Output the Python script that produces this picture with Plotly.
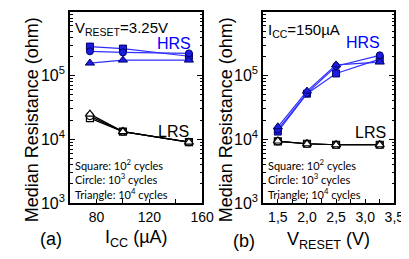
import plotly.graph_objects as go

# ---------------- data ----------------
icc = [75, 100, 150]
hrs_a_square = [2.85e5, 2.65e5, 2.01e5]
hrs_a_circle = [2.40e5, 2.31e5, 2.23e5]
hrs_a_triangle = [1.57e5, 1.75e5, 1.75e5]
lrs_a_square = [2.15e4, 1.32e4, 9.0e3]
lrs_a_circle = [2.31e4, 1.32e4, 9.0e3]
lrs_a_triangle = [2.48e4, 1.32e4, 9.0e3]

vreset = [1.5, 2.0, 2.5, 3.25]
hrs_b_square = [1.32e4, 5.2e4, 1.08e5, 1.81e5]
hrs_b_circle = [1.42e4, 5.3e4, 1.40e5, 2.08e5]
hrs_b_triangle = [1.57e4, 5.7e4, 1.47e5, 1.63e5]
lrs_b_square = [9.3e3, 8.5e3, 8.2e3, 8.2e3]
lrs_b_circle = [9.3e3, 8.5e3, 8.2e3, 8.2e3]
lrs_b_triangle = [9.4e3, 8.5e3, 8.2e3, 8.2e3]

y_tickvals = [1e3, 1e4, 1e5, 1e6]
y_ticktext = ["10<sup>3</sup>", "10<sup>4</sup>", "10<sup>5</sup>", "10<sup>6</sup>"]
xa_tickvals = [60, 80, 100, 120, 140, 160]
xa_ticktext = ["", "80", "", "120", "", "160"]
xb_tickvals = [1.25, 1.5, 1.75, 2.0, 2.25, 2.5, 2.75, 3.0, 3.25, 3.5]
xb_ticktext = ["", "1,5", "", "2,0", "", "2,5", "", "3,0", "", "3,5"]

W, H = 409, 259
FONT = "Liberation Sans, Arial, sans-serif"
BLUE_LINE = "#2f2fff"
BLUE_MARK = "#1c1ce0"

fig = go.Figure()

symbols = ["square", "circle", "triangle-up"]
sizes = [7, 7, 8]


def add_series(x, ys, xa, ya, hrs):
    for y, sym, sz in zip(ys, symbols, sizes):
        if hrs:
            fig.add_trace(go.Scatter(
                x=x, y=y, xaxis=xa, yaxis=ya, mode="lines+markers",
                line=dict(color=BLUE_LINE, width=1.2),
                marker=dict(symbol=sym, size=sz, color=BLUE_MARK,
                            line=dict(color="#00006a", width=1)),
                showlegend=False))
        else:
            fig.add_trace(go.Scatter(
                x=x, y=y, xaxis=xa, yaxis=ya, mode="lines+markers",
                line=dict(color="black", width=1.2),
                marker=dict(symbol=sym, size=sz, color="white",
                            line=dict(color="black", width=1.2)),
                showlegend=False))


add_series(icc, [hrs_a_square, hrs_a_circle, hrs_a_triangle], "x", "y", True)
add_series(icc, [lrs_a_square, lrs_a_circle, lrs_a_triangle], "x", "y", False)
add_series(vreset, [hrs_b_square, hrs_b_circle, hrs_b_triangle], "x2", "y2", True)
add_series(vreset, [lrs_b_square, lrs_b_circle, lrs_b_triangle], "x2", "y2", False)

minor_y = []
for d in [1e3, 1e4, 1e5]:
    for k in range(2, 10):
        minor_y.append(d * k)


def px(v):
    return v / W


def py(v):
    return 1 - v / H


yax = dict(type="log", range=[3, 6], tickvals=y_tickvals, ticktext=y_ticktext,
           ticks="inside", ticklen=5, tickwidth=1.2, tickcolor="black",
           minor=dict(tickvals=minor_y, ticks="inside", ticklen=2.5,
                      tickwidth=1, tickcolor="black", showgrid=False),
           showline=True, linecolor="black", linewidth=2, mirror="ticks",
           showgrid=False, zeroline=False,
           tickfont=dict(family=FONT, size=16, color="black"))

xcommon = dict(ticks="inside", ticklen=4, tickwidth=1.2, tickcolor="black",
               showline=True, linecolor="black", linewidth=2, mirror=True,
               showgrid=False, zeroline=False,
               tickfont=dict(family=FONT, size=14, color="black"))

fig.update_layout(
    width=W, height=H,
    margin=dict(l=0, r=0, t=0, b=0),
    paper_bgcolor="white", plot_bgcolor="white",
    xaxis=dict(domain=[px(64), px(200)], range=[60, 160], anchor="y",
               tickmode="array", tickvals=xa_tickvals, ticktext=xa_ticktext,
               **xcommon),
    yaxis=dict(domain=[py(202), py(4)], anchor="x", **yax),
    xaxis2=dict(domain=[px(263), px(398)], range=[1.25, 3.5], anchor="y2",
                tickmode="array", tickvals=xb_tickvals, ticktext=xb_ticktext,
                **xcommon),
    yaxis2=dict(domain=[py(202), py(4)], anchor="x2", **yax),
)

ann = []


def text(x, y, s, size, color="black", xanchor="center", family=FONT, angle=0):
    ann.append(dict(x=px(x), y=py(y), xref="paper", yref="paper", text=s,
                    showarrow=False, xanchor=xanchor, yanchor="middle",
                    textangle=angle,
                    font=dict(family=family, size=size, color=color)))


# y titles
text(25, 116, "Median Resistance (ohm)", 18, angle=-90)
text(225, 116, "Median Resistance (ohm)", 18, angle=-90)
# x titles and panel labels
text(44, 239, "(a)", 18)
text(132, 239, "I<sub>CC</sub> (µA)", 18)
text(243, 241, "(b)", 18)
text(330, 241, "V<sub>RESET</sub> (V)", 18)
# in-panel labels
text(67, 21, "V<sub>RESET</sub>=3.25V", 15, xanchor="left")
text(266, 23, "I<sub>CC</sub>=150µA", 15, xanchor="left")
text(171, 37, "HRS", 16, color="#0000ff")
text(366, 36, "HRS", 16, color="#0000ff")
text(171, 128, "LRS", 16)
text(373, 129, "LRS", 16)
LEG = "Lato, Open Sans, sans-serif"
for x0 in (67, 266):
    text(x0, 162, "Square: 10<sup>2</sup> cycles", 11, xanchor="left", family=LEG)
    text(x0, 177, "Circle: 10<sup>3</sup> cycles", 11, xanchor="left", family=LEG)
    text(x0, 192, "Triangle: 10<sup>4</sup> cycles", 11, xanchor="left", family=LEG)

fig.update_layout(annotations=ann)
fig.write_html("out.html")
